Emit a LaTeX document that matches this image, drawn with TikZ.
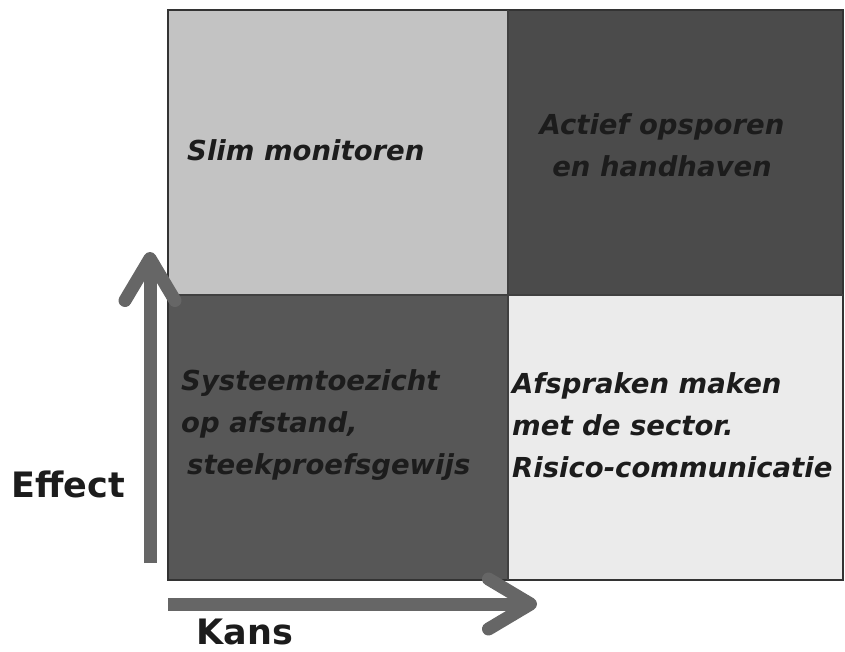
\documentclass[tikz,border=0pt]{standalone}
\usepackage{fontspec}
\setmainfont{DejaVu Sans}
\usetikzlibrary{arrows.meta}

\definecolor{lightq}{HTML}{C3C3C3}
\definecolor{darkq}{HTML}{4B4B4B}
\definecolor{midq}{HTML}{575757}
\definecolor{paleq}{HTML}{EBEBEB}
\definecolor{axisgray}{HTML}{666666}
\definecolor{txtgray}{HTML}{1C1C1C}

\begin{document}
\begin{tikzpicture}[x=1pt,y=-1pt,
  quad/.style={font=\bfseries\itshape\fontsize{27.5}{42}\selectfont,text=txtgray,inner sep=0pt},
  axlabel/.style={font=\bfseries\fontsize{35}{40}\selectfont,text=txtgray},
  axis/.style={line width=13pt,draw=axisgray,-{Straight Barb[length=42pt,width=50pt,round]}}]
  \useasboundingbox (0,0) rectangle (845,652);
  % the four fields
  \fill[lightq] (168,10) rectangle (508,295);
  \fill[darkq] (508,10) rectangle (843,295);
  \fill[midq] (168,295) rectangle (508,580);
  \fill[paleq] (508,295) rectangle (843,580);
  \draw[line width=2pt,draw=black!80] (168,10) rectangle (843,580);
  \draw[line width=2.5pt,draw=black!75] (508,10) -- (508,580) (168,295) -- (843,295);
  % texts in the fields
  \node[quad,anchor=west] (slim) at (187,150) {Slim monitoren};
  \node[quad,align=center] (actief) at (662,145) {Actief opsporen\\en handhaven};
  \node[quad,anchor=west,align=left] (systeem) at (181,425) {Systeemtoezicht\\op afstand,\\\hspace*{6pt}steekproefsgewijs};
  \node[quad,anchor=west,align=left] (afspraken) at (512,425) {Afspraken maken\\met de sector.\\Risico-communicatie};
  % axes
  \coordinate (vfoot) at (150,563);
  \coordinate (vtip) at (150,252);
  \coordinate (hfoot) at (168,604);
  \coordinate (htip) at (537,604);
  \draw[axis] (vfoot) -- (vtip);
  \draw[axis] (hfoot) -- (htip);
  \node[axlabel] (effect) at (68,484) {Effect};
  \node[axlabel] (kans) at (245,632) {Kans};
\end{tikzpicture}
\end{document}
